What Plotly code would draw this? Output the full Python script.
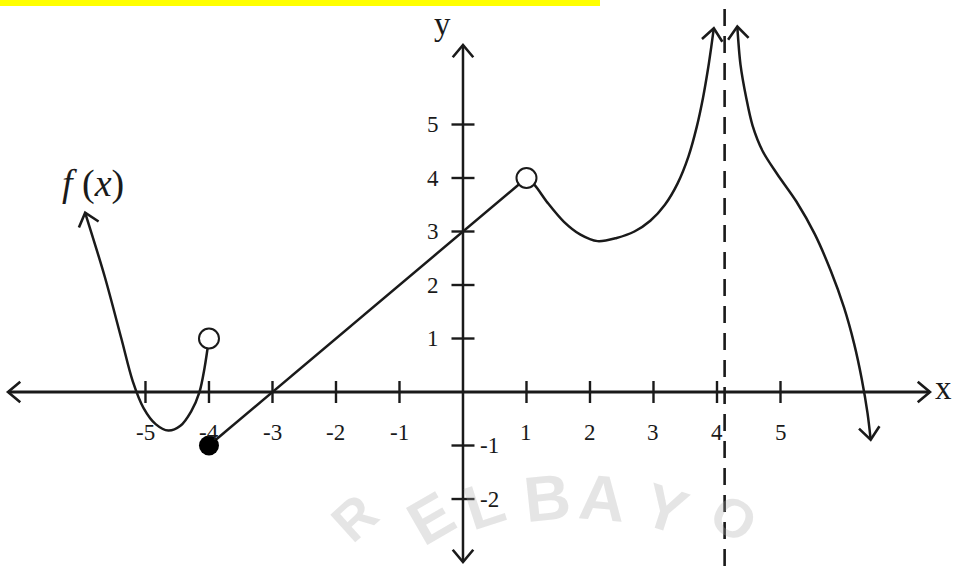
import math
import plotly.graph_objects as go

# ---------------- data ----------------
x_ticks = [-5, -4, -3, -2, -1, 1, 2, 3, 4, 5]
x_tick_labels = ["-5", "-4", "-3", "-2", "-1", "1", "2", "3", "4", "5"]
y_ticks_pos = [5, 4, 3, 2, 1]
y_tick_labels_pos = ["5", "4", "3", "2", "1"]
y_ticks_neg = [-1, -2]
y_tick_labels_neg = ["-1", "-2"]

# left branch (x < -4)
left_x = [-5.95, -5.64, -5.38, -5.2, -5.03, -4.84, -4.64, -4.45, -4.28, -4.15, -4.07, -4.0]
left_y = [3.35, 2.15, 1.0, 0.2, -0.3, -0.6, -0.72, -0.63, -0.36, 0.0, 0.45, 1.0]

# straight segment f(x) = x + 3 on [-4, 1)
seg_x = [-4, 1]
seg_y = [-1, 4]

# middle curve (1 < x < asymptote)
mid_x = [1.0, 1.12, 1.33, 1.59, 1.85, 2.12, 2.42, 2.70, 2.95, 3.18, 3.38, 3.55, 3.68, 3.78, 3.86, 3.91, 3.95]
mid_y = [4.0, 3.88, 3.54, 3.18, 2.94, 2.82, 2.88, 3.0, 3.2, 3.5, 3.9, 4.4, 4.95, 5.5, 6.05, 6.45, 6.8]

# right curve (x > asymptote)
right_x = [4.32, 4.37, 4.46, 4.56, 4.72, 4.95, 5.25, 5.54, 5.79, 6.0, 6.16, 6.28, 6.37, 6.42]
right_y = [6.83, 6.12, 5.5, 4.98, 4.5, 4.07, 3.56, 2.95, 2.27, 1.58, 0.9, 0.24, -0.39, -0.89]

asymptote_x = 4.12

open_x = [-4, 1]
open_y = [1, 4]
closed_x = [-4]
closed_y = [-1]

# ---------------- layout / scales ----------------
W, H = 955, 566
X_RANGE = [-7.291, 7.748]
Y_RANGE = [-3.252, 7.327]
SX = W / (X_RANGE[1] - X_RANGE[0])   # px per x unit
SY = H / (Y_RANGE[1] - Y_RANGE[0])   # px per y unit

AXIS_X_MIN, AXIS_X_MAX = -7.165, 7.354
AXIS_Y_MIN, AXIS_Y_MAX = -3.178, 6.486

INK = "#1a1a1a"
SERIF = "Liberation Serif"


def chevron(tx, ty, fx, fy, length=16, ang=40):
    dx = (tx - fx) * SX
    dy = (ty - fy) * SY
    n = math.hypot(dx, dy)
    bx, by = -dx / n, -dy / n
    xs, ys = [], []
    for s in (1, -1):
        a = math.radians(ang * s)
        rx = bx * math.cos(a) - by * math.sin(a)
        ry = bx * math.sin(a) + by * math.cos(a)
        xs.append(tx + rx * length / SX)
        ys.append(ty + ry * length / SY)
    return [xs[0], tx, xs[1]], [ys[0], ty, ys[1]]


fig = go.Figure()

# asymptote
fig.add_trace(go.Scatter(x=[asymptote_x, asymptote_x], y=[Y_RANGE[0], Y_RANGE[1] - 4 / SY],
                         mode="lines", line=dict(color=INK, width=2.6, dash="17px,10px"),
                         hoverinfo="skip"))

# axes
fig.add_trace(go.Scatter(x=[AXIS_X_MIN, AXIS_X_MAX], y=[0, 0], mode="lines",
                         line=dict(color=INK, width=3), hoverinfo="skip"))
fig.add_trace(go.Scatter(x=[0, 0], y=[AXIS_Y_MIN, AXIS_Y_MAX], mode="lines",
                         line=dict(color=INK, width=2.5), hoverinfo="skip"))

# tick marks
tx, ty = [], []
for k in x_ticks:
    tx += [k, k, None]
    ty += [-11 / SY, 11 / SY, None]
for k in y_ticks_pos + y_ticks_neg:
    tx += [-11.5 / SX, 11.5 / SX, None]
    ty += [k, k, None]
fig.add_trace(go.Scatter(x=tx, y=ty, mode="lines", line=dict(color=INK, width=2.4),
                         hoverinfo="skip"))

# arrowheads
arrow_sets = [
    chevron(AXIS_X_MIN, 0, 0, 0),
    chevron(AXIS_X_MAX, 0, 0, 0),
    chevron(0, AXIS_Y_MAX, 0, 0),
    chevron(0, AXIS_Y_MIN, 0, 0),
    chevron(left_x[0], left_y[0], left_x[1], left_y[1]),
    chevron(mid_x[-1], mid_y[-1], mid_x[-2], mid_y[-2]),
    chevron(right_x[0], right_y[0], right_x[1], right_y[1]),
    chevron(right_x[-1], right_y[-1], right_x[-2], right_y[-2]),
]
ax, ay = [], []
for xs, ys in arrow_sets:
    ax += xs + [None]
    ay += ys + [None]
fig.add_trace(go.Scatter(x=ax, y=ay, mode="lines", line=dict(color=INK, width=2.6),
                         hoverinfo="skip"))

# function pieces
curve_style = dict(color=INK, width=2.5, shape="spline", smoothing=0.9)
for cx, cy in [(left_x, left_y), (mid_x, mid_y), (right_x, right_y)]:
    fig.add_trace(go.Scatter(x=cx, y=cy, mode="lines", line=curve_style, hoverinfo="skip"))
fig.add_trace(go.Scatter(x=seg_x, y=seg_y, mode="lines", line=dict(color=INK, width=2.5),
                         hoverinfo="skip"))

# endpoints
fig.add_trace(go.Scatter(x=open_x, y=open_y, mode="markers",
                         marker=dict(symbol="circle", size=20, color="white",
                                     line=dict(color=INK, width=2)), hoverinfo="skip"))
fig.add_trace(go.Scatter(x=closed_x, y=closed_y, mode="markers",
                         marker=dict(symbol="circle", size=20, color="black"), hoverinfo="skip"))

# tick labels
ann = []
lab_font = dict(family=SERIF, size=23, color=INK)
for k, t in zip(x_ticks, x_tick_labels):
    ann.append(dict(x=k, y=0, xref="x", yref="y", text=t, showarrow=False,
                    xanchor="center", yanchor="middle", yshift=-40, font=lab_font))
for k, t in zip(y_ticks_pos, y_tick_labels_pos):
    ann.append(dict(x=0, y=k, xref="x", yref="y", text=t, showarrow=False,
                    xanchor="center", yanchor="middle", xshift=-30, font=lab_font))
for k, t in zip(y_ticks_neg, y_tick_labels_neg):
    ann.append(dict(x=0, y=k, xref="x", yref="y", text=t, showarrow=False,
                    xanchor="center", yanchor="middle", xshift=27, font=lab_font))


def px(xp, yp):
    return xp / W, 1 - yp / H


# faint watermark letters
for letter, (xp, yp), angle, size in [("R", (354, 518), -42, 54), ("E", (430, 518), -30, 62),
                                      ("L", (484, 504), -18, 62), ("B", (547, 498), -6, 64),
                                      ("A", (602, 498), 5, 64), ("Y", (665, 508), 18, 62),
                                      ("O", (734, 518), 32, 54)]:
    x0, y0 = px(xp, yp)
    ann.append(dict(x=x0, y=y0, xref="paper", yref="paper", text="<b>%s</b>" % letter,
                    showarrow=False, xanchor="center", yanchor="middle", textangle=angle,
                    font=dict(family="Liberation Sans", size=size, color="rgba(170,170,170,0.30)")))

for text, (xp, yp), size in [("y", (442, 24), 33), ("x", (943, 388), 33),
                             ("<i>f</i> (<i>x</i>)", (93, 183), 38)]:
    x0, y0 = px(xp, yp)
    ann.append(dict(x=x0, y=y0, xref="paper", yref="paper", text=text, showarrow=False,
                    xanchor="center", yanchor="middle",
                    font=dict(family=SERIF, size=size, color=INK)))

# yellow highlight strip at the top
shapes = [dict(type="rect", xref="paper", yref="paper", x0=0, x1=600 / W,
               y0=1 - 6 / H, y1=1, line=dict(width=0), fillcolor="#ffff00", layer="above")]

fig.update_layout(
    width=W, height=H, margin=dict(l=0, r=0, t=0, b=0),
    paper_bgcolor="white", plot_bgcolor="white", showlegend=False,
    xaxis=dict(range=X_RANGE, visible=False, fixedrange=True),
    yaxis=dict(range=Y_RANGE, visible=False, fixedrange=True),
    annotations=ann, shapes=shapes,
)

fig.write_html("out.html", config={"displayModeBar": False},
               post_script="document.body.style.margin='0';document.body.style.padding='0';")
